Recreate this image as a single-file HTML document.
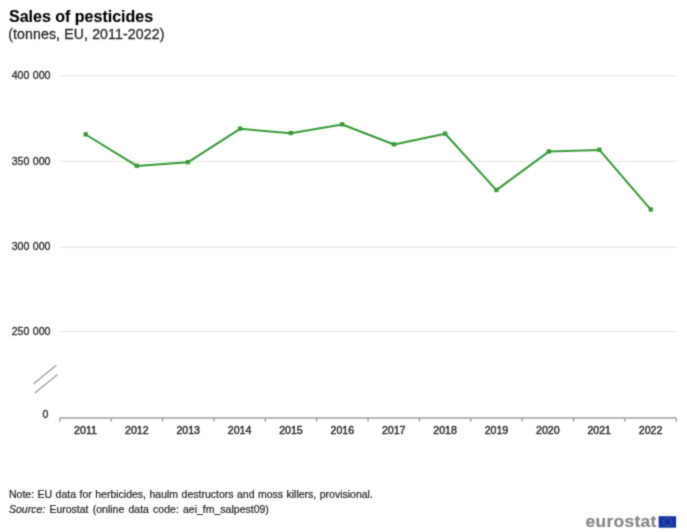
<!DOCTYPE html>
<html>
<head>
<meta charset="utf-8">
<style>
html,body{margin:0;padding:0;background:#fff;}
body{width:687px;height:532px;overflow:hidden;position:relative;font-family:"Liberation Sans",sans-serif;}
svg{position:absolute;left:0;top:0;}
</style>
</head>
<body>
<svg width="687" height="532" viewBox="0 0 687 532" font-family="Liberation Sans, sans-serif">
  <defs><filter id="bl" x="0" y="0" width="687" height="532" filterUnits="userSpaceOnUse" color-interpolation-filters="sRGB"><feConvolveMatrix order="3" kernelMatrix="1 4 1 4 16 4 1 4 1" divisor="36" edgeMode="duplicate"/></filter></defs>
<g filter="url(#bl)">
  <rect x="0" y="0" width="687" height="532" fill="#ffffff"/>
  <text x="9" y="21.5" font-size="16" font-weight="bold" fill="#000" stroke="#000" stroke-width="0.12">Sales of pesticides</text>
  <text x="8.2" y="39" font-size="14.1" letter-spacing="0.13" fill="#2a2a2a" stroke="#2a2a2a" stroke-width="0.3">(tonnes, EU, 2011-2022)</text>
  <g stroke="#e3e3e3" stroke-width="1">
    <line x1="59.8" y1="75.7" x2="677" y2="75.7"/>
    <line x1="59.8" y1="161.3" x2="677" y2="161.3"/>
    <line x1="59.8" y1="247.3" x2="677" y2="247.3"/>
    <line x1="59.8" y1="331.5" x2="677" y2="331.5"/>
  </g>
  <g font-size="10.6" fill="#333" stroke="#333" stroke-width="0.35" word-spacing="0.5" text-anchor="end">
    <text x="50.5" y="79.3">400 000</text>
    <text x="50.5" y="164.6">350 000</text>
    <text x="50.5" y="250.1">300 000</text>
    <text x="50.5" y="334.8">250 000</text>
    <text x="48.4" y="418.4">0</text>
  </g>
  <g stroke="#9a9a9a" stroke-width="1.25">
    <line x1="33.6" y1="383.8" x2="56.3" y2="365.2"/>
    <line x1="34.8" y1="393.1" x2="57.6" y2="374.6"/>
  </g>
  <line x1="59.8" y1="418.1" x2="676.3" y2="418.1" stroke="#a0a0a0" stroke-width="1.5"/>
  <g stroke="#999" stroke-width="1.3"><line x1="59.80" y1="418.1" x2="59.80" y2="421.7"/><line x1="111.17" y1="418.1" x2="111.17" y2="421.7"/><line x1="162.55" y1="418.1" x2="162.55" y2="421.7"/><line x1="213.93" y1="418.1" x2="213.93" y2="421.7"/><line x1="265.30" y1="418.1" x2="265.30" y2="421.7"/><line x1="316.68" y1="418.1" x2="316.68" y2="421.7"/><line x1="368.05" y1="418.1" x2="368.05" y2="421.7"/><line x1="419.43" y1="418.1" x2="419.43" y2="421.7"/><line x1="470.80" y1="418.1" x2="470.80" y2="421.7"/><line x1="522.17" y1="418.1" x2="522.17" y2="421.7"/><line x1="573.55" y1="418.1" x2="573.55" y2="421.7"/><line x1="624.92" y1="418.1" x2="624.92" y2="421.7"/><line x1="676.30" y1="418.1" x2="676.30" y2="421.7"/></g>
  <g font-size="10.6" fill="#2e2e2e" stroke="#2e2e2e" stroke-width="0.45" text-anchor="middle"><text x="85.49" y="433.6">2011</text><text x="136.86" y="433.6">2012</text><text x="188.24" y="433.6">2013</text><text x="239.61" y="433.6">2014</text><text x="290.99" y="433.6">2015</text><text x="342.36" y="433.6">2016</text><text x="393.74" y="433.6">2017</text><text x="445.11" y="433.6">2018</text><text x="496.49" y="433.6">2019</text><text x="547.86" y="433.6">2020</text><text x="599.24" y="433.6">2021</text><text x="650.61" y="433.6">2022</text></g>
  <polyline fill="none" stroke="#389b3a" stroke-width="2.05" stroke-linejoin="round" points="85.7,134.50 136.8,165.90 187.9,162.30 240,128.80 290.9,133.20 342.2,124.50 394,144.50 445.2,133.80 496.4,190.10 548.8,151.60 599.4,149.90 650.8,209.60"/>
  <g fill="#389b3a"><rect x="83.55" y="132.20" width="4.3" height="4.3"/><rect x="134.65" y="163.60" width="4.3" height="4.3"/><rect x="185.75" y="160.00" width="4.3" height="4.3"/><rect x="237.85" y="126.50" width="4.3" height="4.3"/><rect x="288.75" y="130.90" width="4.3" height="4.3"/><rect x="340.05" y="122.20" width="4.3" height="4.3"/><rect x="391.85" y="142.20" width="4.3" height="4.3"/><rect x="443.05" y="131.50" width="4.3" height="4.3"/><rect x="494.25" y="187.80" width="4.3" height="4.3"/><rect x="546.65" y="149.30" width="4.3" height="4.3"/><rect x="597.25" y="147.60" width="4.3" height="4.3"/><rect x="648.65" y="207.30" width="4.3" height="4.3"/></g>
  <text x="9" y="498" font-size="10.5" fill="#1e1e1e" stroke="#1e1e1e" stroke-width="0.2" word-spacing="0.55">Note: EU data for herbicides, haulm destructors and moss killers, provisional.</text>
  <text x="9" y="512.6" font-size="10.5" fill="#1e1e1e" stroke="#1e1e1e" stroke-width="0.2" word-spacing="1.3"><tspan font-style="italic">Source:</tspan> Eurostat (online data code: aei_fm_salpest09)</text>
  <text x="585.6" y="527.3" font-size="17.4" font-weight="bold" fill="#888" stroke="#888" stroke-width="0.2" letter-spacing="0.3">eurostat</text>
  <rect x="658.6" y="516.2" width="17.5" height="11.5" fill="#1434a4"/>
  <circle cx="667.5" cy="522" r="4" fill="none" stroke="#9a9a70" stroke-width="0.7" stroke-dasharray="1 1.1"/>
</g>
</svg>
</body>
</html>
